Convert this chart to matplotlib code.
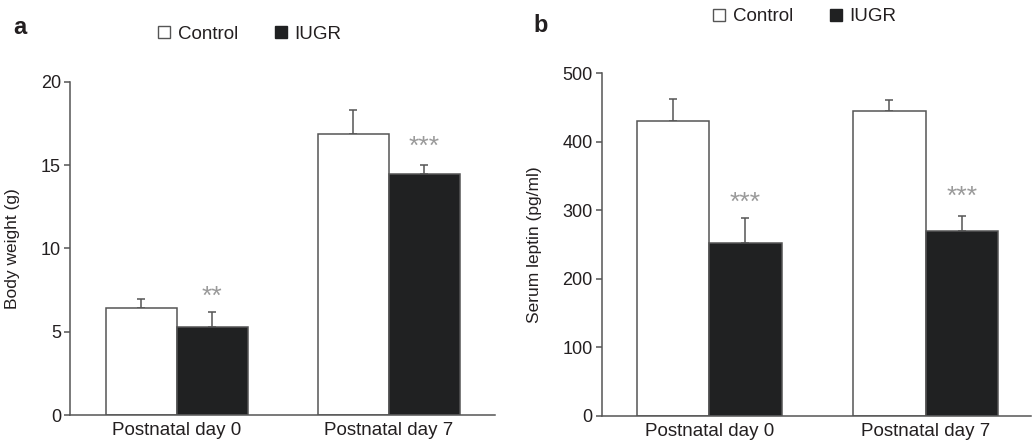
import matplotlib
matplotlib.use('Agg')
import matplotlib.pyplot as plt
from matplotlib.lines import Line2D
import numpy as np

plt.rcParams['font.family'] = ['Liberation Sans', 'DejaVu Sans']
plt.rcParams['text.color'] = '#231f20'
plt.rcParams['axes.labelcolor'] = '#231f20'
plt.rcParams['xtick.color'] = '#231f20'
plt.rcParams['ytick.color'] = '#555555'
plt.rcParams['ytick.labelcolor'] = '#231f20'

# data
groups = ['Postnatal day 0', 'Postnatal day 7']
series = ['Control', 'IUGR']

weight_control = [6.4, 16.9]
weight_control_err = [0.56, 1.44]
weight_iugr = [5.3, 14.5]
weight_iugr_err = [0.9, 0.54]
weight_stars = ['**', '***']

leptin_control = [430, 445]
leptin_control_err = [33, 16]
leptin_iugr = [253, 270]
leptin_iugr_err = [36, 22]
leptin_stars = ['***', '***']

W, H = 1032, 442
fig = plt.figure(figsize=(W / 100, H / 100), dpi=100)

edge = '#555555'
dark = '#202122'
star_col = '#9a9a9a'


def px_axes(x0, x1, ytop, ybot):
    return fig.add_axes([x0 / W, (H - ybot) / H, (x1 - x0) / W, (ybot - ytop) / H])


def draw_panel(ax, ctrl, ctrl_err, iugr, iugr_err, stars, ylim, yticks, ylabel, xlim, star_off):
    x = np.arange(len(groups))
    w = 0.334
    ax.bar(x - w / 2, ctrl, w, color='white', edgecolor=edge, linewidth=1.1, zorder=2)
    ax.bar(x + w / 2, iugr, w, color=dark, edgecolor=edge, linewidth=1.1, zorder=2)
    ax.errorbar(x - w / 2, ctrl, yerr=[np.zeros(len(ctrl)), ctrl_err], fmt='none',
                ecolor=edge, elinewidth=1.1, capsize=2.6, capthick=1.1, zorder=1)
    ax.errorbar(x + w / 2, iugr, yerr=[np.zeros(len(iugr)), iugr_err], fmt='none',
                ecolor=edge, elinewidth=1.1, capsize=2.6, capthick=1.1, zorder=1)
    for xi, top, s, off in zip(x + w / 2, np.array(iugr) + np.array(iugr_err), stars, star_off):
        ax.annotate(s, (xi, top), xytext=(0, off), textcoords='offset points',
                    ha='center', va='center', color=star_col, fontsize=19)
    ax.set_xlim(*xlim)
    ax.set_ylim(*ylim)
    ax.set_yticks(yticks)
    ax.set_xticks(x)
    ax.set_xticklabels(groups, fontsize=13.5)
    ax.tick_params(axis='x', length=0, pad=5)
    ax.tick_params(axis='y', length=4.5, width=1.1, labelsize=13, pad=2)
    for s in ['top', 'right']:
        ax.spines[s].set_visible(False)
    for s in ['left', 'bottom']:
        ax.spines[s].set_color(edge)
        ax.spines[s].set_linewidth(1.1)
    ax.set_ylabel(ylabel, fontsize=12.5)
    ax.patch.set_alpha(0)


ax_a = px_axes(70, 495, 82, 415)
draw_panel(ax_a, weight_control, weight_control_err, weight_iugr, weight_iugr_err,
           weight_stars, (0, 20), [0, 5, 10, 15, 20], 'Body weight (g)',
           (-0.503, 1.5), [10.5, 13])
ax_a.yaxis.set_label_coords(-0.118, 0.5)

ax_b = px_axes(601.7, 1031, 73.3, 416)
draw_panel(ax_b, leptin_control, leptin_control_err, leptin_iugr, leptin_iugr_err,
           leptin_stars, (0, 500), [0, 100, 200, 300, 400, 500], 'Serum leptin (pg/ml)',
           (-0.497, 1.487), [10.5, 13.5])
ax_b.yaxis.set_label_coords(-0.14, 0.5)

handles = [Line2D([], [], marker='s', linestyle='none', markersize=9,
                  markerfacecolor='white', markeredgecolor=edge, markeredgewidth=1.0),
           Line2D([], [], marker='s', linestyle='none', markersize=9,
                  markerfacecolor=dark, markeredgecolor=dark)]
for cx, cy in [(249, 34), (804, 16.7)]:
    fig.legend(handles, series, loc='center', bbox_to_anchor=(cx / W, (H - cy) / H),
               ncol=2, frameon=False, fontsize=13.5, handlelength=0.8,
               handletextpad=0.3, columnspacing=1.9, borderpad=0)

fig.text(13 / W, (H - 28) / H, 'a', fontsize=17, fontweight='bold', va='center', ha='left')
fig.text(533 / W, (H - 25) / H, 'b', fontsize=17, fontweight='bold', va='center', ha='left')

fig.savefig('out.png', dpi=100)
